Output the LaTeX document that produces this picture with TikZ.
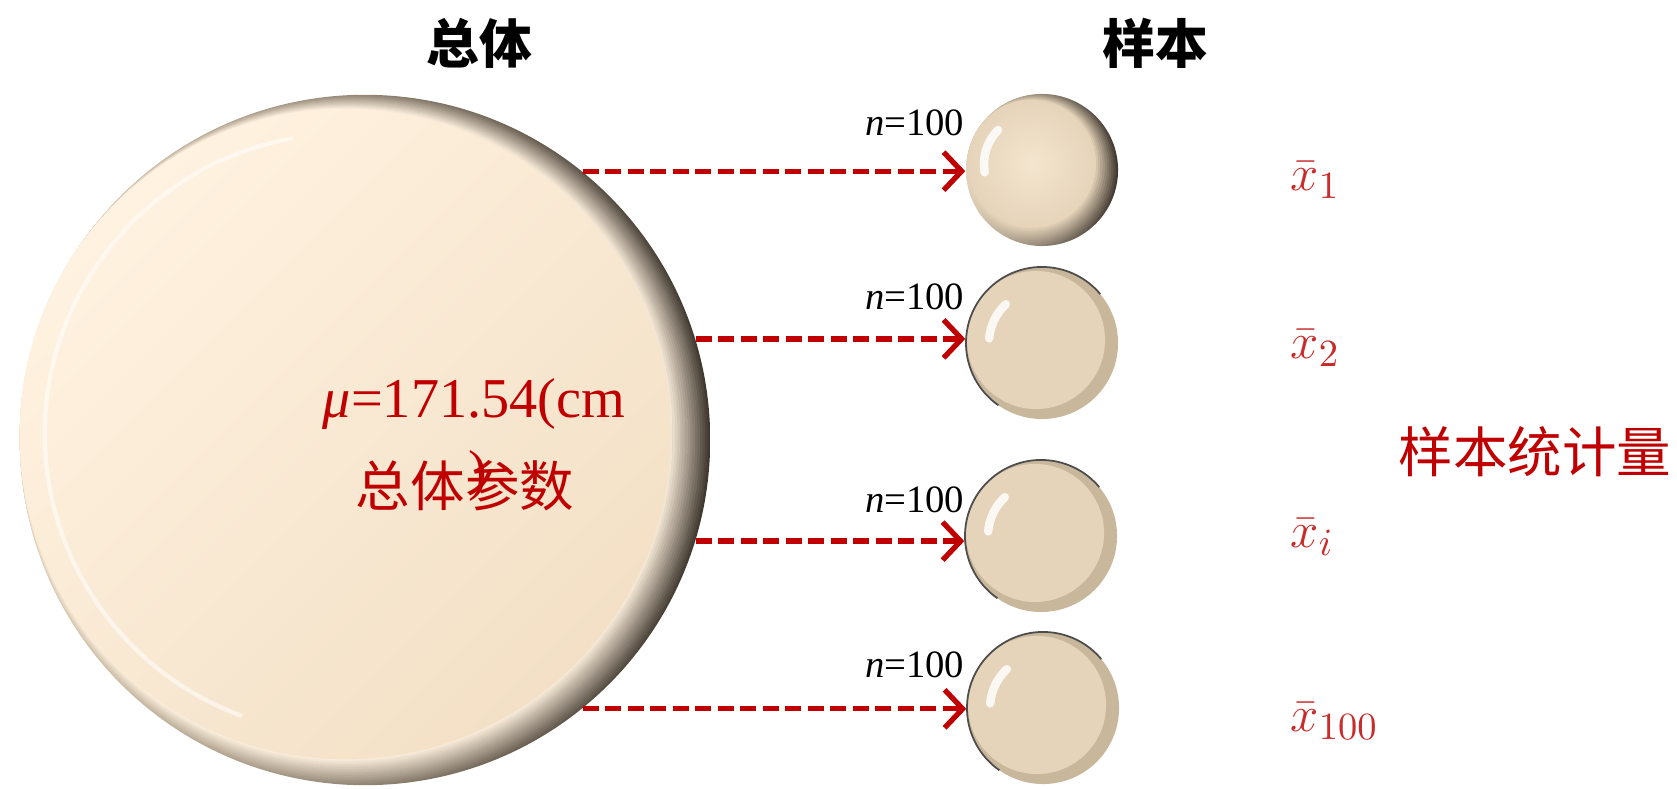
\documentclass[tikz,border=0pt]{standalone}
\usepackage{fontspec}
\setmainfont{Liberation Serif}
\newfontfamily\cjk{Noto Sans CJK SC}
\usetikzlibrary{arrows.meta,positioning,shadings}

\definecolor{darkred}{HTML}{C00000}
\definecolor{statred}{HTML}{C92A2A}
\definecolor{cream}{HTML}{FFF2E0}
\definecolor{creamdeep}{HTML}{F3E0C6}
\definecolor{rimlight}{HTML}{E2D2BA}
\definecolor{rimdark}{HTML}{40382F}
\definecolor{beige}{HTML}{E5D4BA}
\definecolor{beigedeep}{HTML}{C9B79C}
\definecolor{ballcore}{HTML}{F4E5CE}

\begin{document}
\begin{tikzpicture}[
    x=0.01cm, y=-0.01cm,
    popdisc/.style={circle, inner sep=0pt, minimum size=6.9cm},
    sample/.style={circle, inner sep=0pt, minimum size=1.52cm},
    heading/.style={font=\cjk\bfseries\fontsize{15}{18}\selectfont},
    redcjk/.style={text=darkred, font=\cjk\fontsize{15.5}{18}\selectfont},
    redserif/.style={text=darkred, font=\fontsize{16}{19}\selectfont},
    flow/.style={draw=darkred, line width=1.5pt, dash pattern=on 4.5pt off 1.9pt, -{Straight Barb[length=1.8mm, width=3.8mm]}},
    sizelabel/.style={anchor=base east, inner sep=0pt, font=\fontsize{11}{13}\selectfont},
    statlabel/.style={anchor=west, inner sep=0pt, text=statred, font=\fontsize{15}{17}\selectfont}
]
\useasboundingbox (0,0) rectangle (1677,789);

% population disc, bevelled rim darker to the right
\node[popdisc] (pop) at (365,440) {};
\begin{scope}[shift={(pop.center)}, x=1cm, y=1cm]
  \foreach \k in {0,...,15}{
    \pgfmathsetmacro{\t}{\k/16}
    \pgfmathtruncatemacro{\p}{6.25*\k}
    \shade[left color=cream!\p!rimlight, right color=cream!\p!rimdark] ({-0.2*\t},{0.06*\t}) circle[radius={3.45-0.2*\t}];
  }
  \shade[top color=cream, bottom color=creamdeep, shading angle=45] (-0.2,0.06) circle[radius=3.25];
  \draw[white, opacity=.55, line width=1.2pt] (-0.2,0.06) ++(100:3.0) arc[start angle=100, end angle=250, radius=3.0];
\end{scope}

% samples
\node[sample] (s1) at (1042,170) {};
\node[sample] (s2) at (1042,343) {};
\node[sample] (s3) at (1041,536) {};
\node[sample] (s4) at (1043,708) {};

\begin{scope}[shift={(s1.center)}, x=1cm, y=1cm]
  \foreach \k in {0,...,9}{
    \pgfmathsetmacro{\t}{\k/10}
    \pgfmathtruncatemacro{\p}{10*\k}
    \shade[left color=beige!\p!rimlight, right color=beige!\p!rimdark] ({-0.1*\t},{0.06*\t}) circle[radius={0.76-0.12*\t}];
  }
  \shade[inner color=ballcore, outer color=beige] (-0.1,0.06) circle[radius=0.64];
  \draw[white, line width=2.4pt, line cap=round, opacity=.85] (-0.1,0.06) ++(135:0.48) arc[start angle=135, end angle=190, radius=0.48];
\end{scope}
\foreach \s in {s2,s3,s4}{
  \begin{scope}[shift={(\s.center)}, x=1cm, y=1cm]
    \fill[beigedeep] (0,0) circle[radius=0.76];
    \fill[beige] (-0.06,0.03) circle[radius=0.69];
    \draw[black!70, line width=0.5pt] (0,0) ++(40:0.76) arc[start angle=40, end angle=235, radius=0.76];
    \draw[white, line width=2.4pt, line cap=round, opacity=.85] (0,0) ++(133:0.53) arc[start angle=133, end angle=175, radius=0.53];
  \end{scope}
}

% headings
\node[heading] (poptitle) at (479,43) {总体};
\node[heading] (smptitle) at (1155,43) {样本};

% population parameter
\node[redserif, anchor=base] (mu) at (474,418) {{\itshape μ}=171.54(cm};
\node[redcjk] (param) at (465,486) {总体参数};
\node[redserif] (paren) at (478,476) {)};

% drawing the samples
\draw[flow] (pop.51) -- (pop.51 -| s1.west);
\draw[flow] (pop.17) -- (pop.17 -| s2.west);
\draw[flow] (pop.-17) -- (pop.-17 -| s3.west);
\draw[flow] (pop.-51) -- (pop.-51 -| s4.west);

\node[sizelabel] (n1) at (965,136) {{\itshape n}=100};
\node[sizelabel] (n2) at (965,310) {{\itshape n}=100};
\node[sizelabel] (n3) at (965,513) {{\itshape n}=100};
\node[sizelabel] (n4) at (965,677) {{\itshape n}=100};

% sample means
\node[statlabel] (m1) at (1290,180) {$\bar{x}_1$};
\node[statlabel] (m2) at (1290,348) {$\bar{x}_2$};
\node[statlabel] (mi) at (1290,537) {$\bar{x}_i$};
\node[statlabel] (m100) at (1290,721) {$\bar{x}_{100}$};
\node[redcjk] (statname) at (1535,452) {样本统计量};
\end{tikzpicture}
\end{document}
